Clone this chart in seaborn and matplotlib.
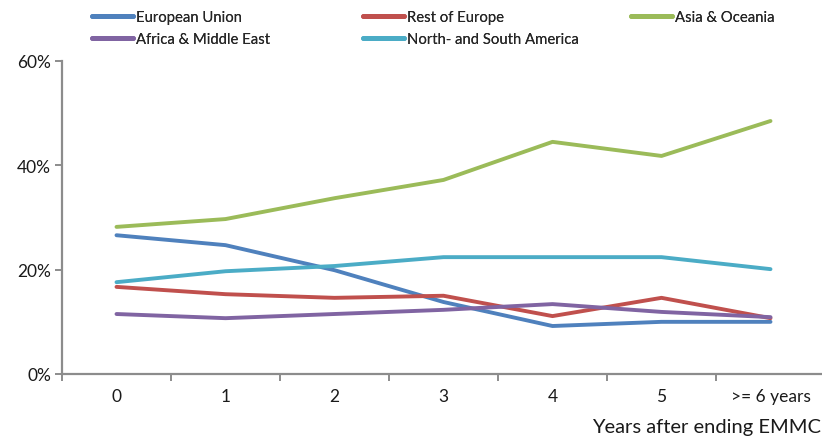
import matplotlib
matplotlib.use("Agg")
import matplotlib.pyplot as plt
from matplotlib.ticker import FixedLocator, PercentFormatter
from matplotlib.lines import Line2D
import seaborn as sns
import pandas as pd

# Share of graduates by region, per year after ending EMMC (percent)
categories = ["0", "1", "2", "3", "4", "5", ">= 6 years"]
european_union = [26.6, 24.7, 19.9, 13.8, 9.2, 10.0, 10.0]
rest_of_europe = [16.7, 15.3, 14.6, 15.0, 11.1, 14.6, 10.7]
asia_oceania = [28.2, 29.7, 33.7, 37.2, 44.5, 41.8, 48.5]
africa_middle_east = [11.5, 10.7, 11.5, 12.3, 13.4, 11.9, 10.9]
americas = [17.6, 19.7, 20.7, 22.4, 22.4, 22.4, 20.1]

series = {
    "European Union": european_union,
    "Rest of Europe": rest_of_europe,
    "Asia & Oceania": asia_oceania,
    "Africa & Middle East": africa_middle_east,
    "North- and South America": americas,
}
palette = {
    "European Union": "#4F81BD",
    "Rest of Europe": "#C0504D",
    "Asia & Oceania": "#9BBB59",
    "Africa & Middle East": "#8064A2",
    "North- and South America": "#4BACC6",
}

rows = []
for region, values in series.items():
    for i, v in enumerate(values):
        rows.append({"pos": i, "share": v, "region": region})
df = pd.DataFrame(rows)

sns.set_style("white")
plt.rcParams["font.family"] = ["Lato", "DejaVu Sans"]

fig = plt.figure(figsize=(8.22, 4.39), dpi=100)
ax = fig.add_axes([62 / 822, 1 - 375 / 439, 1 - 62 / 822, (375 - 62) / 439])

sns.lineplot(data=df, x="pos", y="share", hue="region", palette=palette,
             linewidth=2.8, ax=ax, legend=False, solid_capstyle="round")

axis_grey = "#8c8c8c"
for side in ("top", "right"):
    ax.spines[side].set_visible(False)
for side in ("left", "bottom"):
    ax.spines[side].set_color(axis_grey)
    ax.spines[side].set_linewidth(1.6)

ax.set_ylim(0, 60)
ax.set_xlim(-0.5, (822 - 62) / 109 - 0.5)
ax.set_yticks([0, 20, 40, 60])
ax.yaxis.set_major_formatter(PercentFormatter(decimals=0))
ax.tick_params(axis="y", direction="out", length=5, width=1.4, color=axis_grey,
               labelsize=12.5, pad=3, left=True)

# category boundaries carry the tick marks, labels sit at category centres
ax.xaxis.set_major_locator(FixedLocator([i - 0.5 for i in range(len(categories))]))
ax.xaxis.set_minor_locator(FixedLocator(list(range(len(categories)))))
ax.set_xticklabels([], minor=False)
ax.set_xticklabels(categories, minor=True)
ax.tick_params(axis="x", which="major", direction="out", length=5, width=1.4,
               color=axis_grey, bottom=True)
ax.tick_params(axis="x", which="minor", length=0, labelsize=12.5, pad=10, bottom=True)
for lbl in ax.get_yticklabels() + ax.get_xticklabels(minor=True):
    lbl.set_color("#1a1a1a")

ax.set_xlabel("")
ax.set_ylabel("")
fig.text(821 / 822, 1 - 428 / 439, "Years after ending EMMC", ha="right",
         va="center", fontsize=14.5, color="#1a1a1a")


def handle(name):
    return Line2D([], [], color=palette[name], linewidth=3.5, solid_capstyle="round")


# legend laid out in three columns across the top
columns = [
    (92, ["European Union", "Africa & Middle East"]),
    (363, ["Rest of Europe", "North- and South America"]),
    (631, ["Asia & Oceania"]),
]
for x0, names in columns:
    leg = fig.legend([handle(n) for n in names], names, loc="upper left",
                     bbox_to_anchor=(x0 / 822, 1 - 11 / 439), frameon=False,
                     fontsize=10.7, handlelength=2.75, handletextpad=0.2,
                     labelspacing=0.55, borderaxespad=0, borderpad=0)
    fig.add_artist(leg)

fig.savefig("out.png", dpi=100)
